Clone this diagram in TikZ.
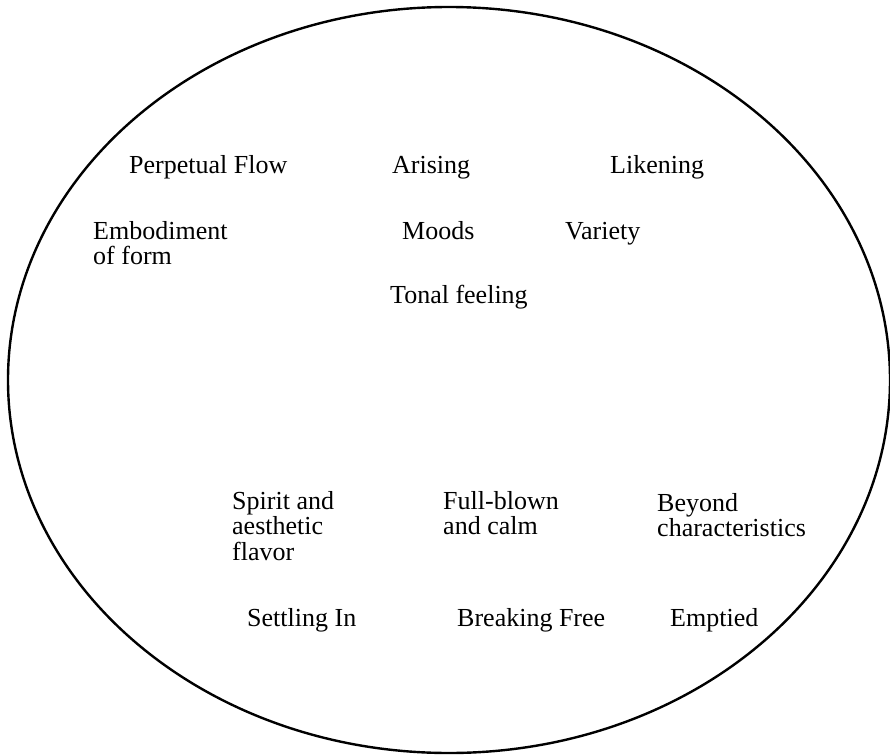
\documentclass[tikz,border=0pt]{standalone}
\usepackage{fontspec}
\setmainfont{Liberation Serif}
\begin{document}
\begin{tikzpicture}[
  x=1pt, y=-1pt,
  word/.style={anchor=base west, inner sep=0pt, align=left,
    font=\fontsize{26}{25.5}\selectfont}
]
  \useasboundingbox (0,0) rectangle (890,754);

  % Outer ellipse
  \draw[line width=2.4pt] (449,380) ellipse [x radius=441, y radius=373];

  % Upper group (base = last line)
  \node[word] (flow) at (129,173) {Perpetual Flow};
  \node[word] (arising) at (392,173) {Arising};
  \node[word] (liken) at (610,173) {Likening};
  \node[word] (embody) at (93,264.5) {Embodiment\\of form};
  \node[word] (moods) at (402,239) {Moods};
  \node[word] (variety) at (565,239) {Variety};
  \node[word] (tonal) at (390,303) {Tonal feeling};

  % Lower group
  \node[word] (spirit) at (232,560) {Spirit and\\aesthetic\\flavor};
  \node[word] (fullblown) at (443,534.5) {Full-blown\\and calm};
  \node[word] (beyond) at (657,536.5) {Beyond\\characteristics};
  \node[word] (settle) at (247,626) {Settling In};
  \node[word] (breakfree) at (457,626) {Breaking Free};
  \node[word] (emptied) at (670,626) {Emptied};

\end{tikzpicture}
\end{document}
